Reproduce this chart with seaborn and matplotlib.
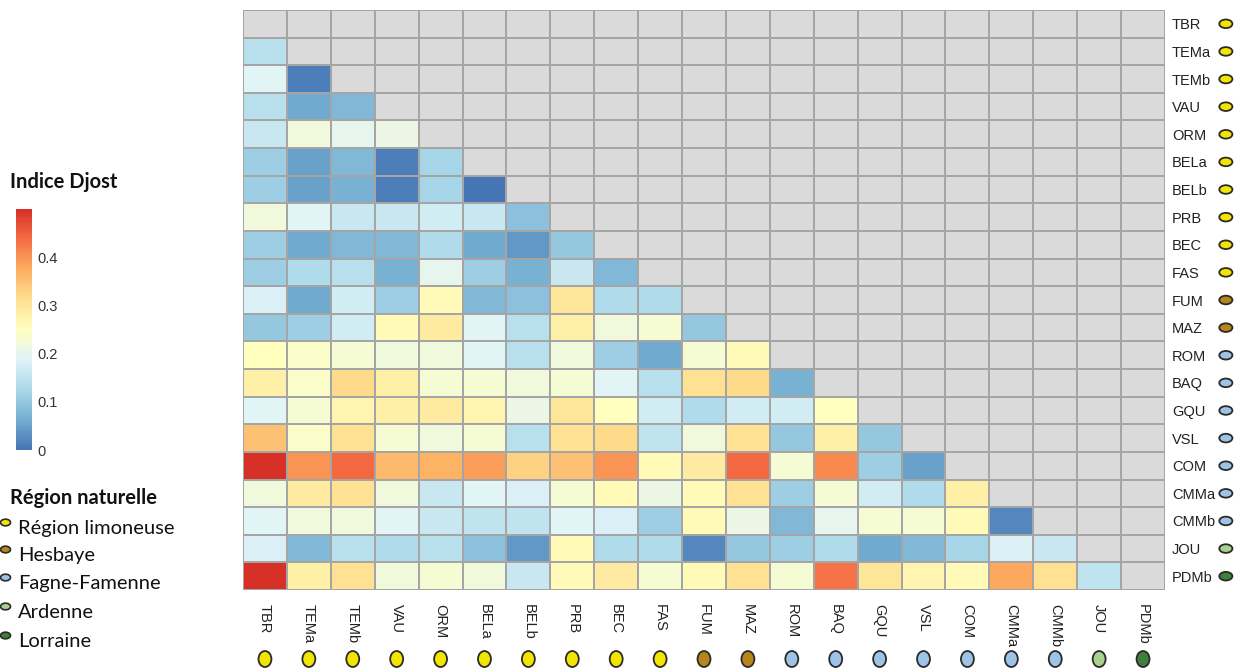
import numpy as np
import pandas as pd
import matplotlib
matplotlib.use('Agg')
import matplotlib.pyplot as plt
from matplotlib.colors import LinearSegmentedColormap, ListedColormap
from matplotlib.markers import MarkerStyle
from matplotlib.transforms import Affine2D, blended_transform_factory
import seaborn as sns

# sites (rows and columns of the matrix)
sites = ['TBR', 'TEMa', 'TEMb', 'VAU', 'ORM', 'BELa', 'BELb', 'PRB', 'BEC', 'FAS',
         'FUM', 'MAZ', 'ROM', 'BAQ', 'GQU', 'VSL', 'COM', 'CMMa', 'CMMb', 'JOU', 'PDMb']
site_region = [0, 0, 0, 0, 0, 0, 0, 0, 0, 0, 1, 1, 2, 2, 2, 2, 2, 2, 2, 3, 4]

region_names = ['Région limoneuse', 'Hesbaye', 'Fagne-Famenne', 'Ardenne', 'Lorraine']
region_colors = ['#f2e500', '#b5861c', '#9dc3e6', '#a9d18e', '#3f7f3a']

# lower triangle of Djost values (row i -> columns 0..i-1)
djost_rows = [
    [],
    [0.14],
    [0.19, 0.01],
    [0.14, 0.06, 0.08],
    [0.16, 0.22, 0.20, 0.21],
    [0.11, 0.05, 0.08, 0.01, 0.12],
    [0.11, 0.05, 0.07, 0.01, 0.12, 0.00],
    [0.22, 0.19, 0.16, 0.16, 0.17, 0.16, 0.09],
    [0.11, 0.06, 0.08, 0.08, 0.13, 0.06, 0.04, 0.10],
    [0.11, 0.13, 0.14, 0.07, 0.20, 0.11, 0.07, 0.16, 0.08],
    [0.18, 0.06, 0.17, 0.11, 0.26, 0.08, 0.09, 0.30, 0.13, 0.13],
    [0.10, 0.11, 0.17, 0.26, 0.29, 0.19, 0.14, 0.28, 0.22, 0.23, 0.10],
    [0.25, 0.24, 0.23, 0.22, 0.22, 0.19, 0.14, 0.22, 0.11, 0.06, 0.23, 0.26],
    [0.28, 0.24, 0.32, 0.28, 0.23, 0.23, 0.22, 0.23, 0.19, 0.14, 0.31, 0.32, 0.07],
    [0.19, 0.23, 0.27, 0.28, 0.29, 0.27, 0.21, 0.30, 0.25, 0.17, 0.13, 0.17, 0.17, 0.25],
    [0.35, 0.24, 0.31, 0.23, 0.22, 0.23, 0.14, 0.31, 0.32, 0.15, 0.22, 0.31, 0.10, 0.28, 0.10],
    [0.50, 0.40, 0.44, 0.36, 0.37, 0.39, 0.33, 0.35, 0.40, 0.26, 0.29, 0.44, 0.23, 0.41, 0.11, 0.05],
    [0.22, 0.29, 0.31, 0.22, 0.16, 0.19, 0.18, 0.23, 0.26, 0.21, 0.26, 0.31, 0.11, 0.23, 0.17, 0.13, 0.28],
    [0.19, 0.22, 0.22, 0.19, 0.16, 0.15, 0.15, 0.19, 0.18, 0.11, 0.26, 0.21, 0.08, 0.20, 0.23, 0.23, 0.26, 0.02],
    [0.18, 0.08, 0.14, 0.13, 0.14, 0.09, 0.04, 0.26, 0.13, 0.13, 0.02, 0.10, 0.11, 0.13, 0.06, 0.08, 0.12, 0.18, 0.16],
    [0.50, 0.28, 0.31, 0.22, 0.23, 0.22, 0.16, 0.26, 0.29, 0.23, 0.26, 0.31, 0.23, 0.43, 0.30, 0.27, 0.26, 0.38, 0.31, 0.15],
]

cbar_ticks = [0, 0.1, 0.2, 0.3, 0.4]
cbar_labels = ['0', '0.1', '0.2', '0.3', '0.4']

n = len(sites)
mat = np.full((n, n), np.nan)
for i, row in enumerate(djost_rows):
    mat[i, :len(row)] = row
df = pd.DataFrame(mat, index=sites, columns=sites)
mask = np.triu(np.ones((n, n), dtype=bool))

cmap = LinearSegmentedColormap.from_list('djost', ['#4575b4', '#74add1', '#abd9e9', '#e0f3f8', '#ffffbf',
                                                   '#fee090', '#fdae61', '#f46d43', '#d73027'])

sns.set_theme(style='white')
plt.rcParams['font.family'] = ['Liberation Sans', 'DejaVu Sans']

W, H = 1245, 671
fig = plt.figure(figsize=(W / 100, H / 100), dpi=100)
ax = fig.add_axes([243 / W, 1 - 590 / H, 922 / W, 580 / H])
cax = fig.add_axes([16 / W, 1 - 450 / H, 16 / W, 241 / H])

grid_col = '#a5a5a5'
# grey background for the masked upper triangle
sns.heatmap(np.zeros((n, n)), ax=ax, cmap=ListedColormap(['#dadada']), vmin=-1, vmax=1,
            cbar=False, linewidths=1.2, linecolor=grid_col)
sns.heatmap(df, mask=mask, ax=ax, cmap=cmap, vmin=0, vmax=0.5, linewidths=1.2, linecolor=grid_col,
            cbar_ax=cax, cbar_kws={'ticks': cbar_ticks})

ax.set_xticks(np.arange(n) + 0.5)
ax.set_xticklabels(sites, rotation=270, fontsize=10.5, color='#222222')
ax.yaxis.tick_right()
ax.set_yticks(np.arange(n) + 0.5)
ax.set_yticklabels(sites, rotation=0, fontsize=10.5, color='#222222')
ax.tick_params(axis='x', length=0, pad=10)
ax.tick_params(axis='y', length=0, pad=5)
ax.set_xlabel('')
ax.set_ylabel('')

cb = ax.collections[1].colorbar
cb.outline.set_visible(False)
cb.set_ticklabels(cbar_labels)
cax.tick_params(length=0, labelsize=10.5, pad=4, labelcolor='#333333')

# region dots next to site names
dot_colors = [region_colors[r] for r in site_region]
tr_right = blended_transform_factory(ax.transAxes, ax.transData)
ax.scatter([1.066] * n, np.arange(n) + 0.5, transform=tr_right, s=60, c=dot_colors,
           marker=MarkerStyle('o', transform=Affine2D().scale(1.22, 0.8)),
           edgecolors='#2a2a2a', linewidths=1.3, clip_on=False, zorder=5)
tr_bottom = blended_transform_factory(ax.transData, ax.transAxes)
ax.scatter(np.arange(n) + 0.5, [-0.119] * n, transform=tr_bottom, s=120, c=dot_colors,
           marker=MarkerStyle('o', transform=Affine2D().scale(0.85, 1.05)),
           edgecolors='#2a2a2a', linewidths=1.3, clip_on=False, zorder=5)

# left legend (pixel coordinates)
lax = fig.add_axes([0, 0, 1, 1])
lax.set_xlim(0, W)
lax.set_ylim(H, 0)
lax.axis('off')
lax.patch.set_alpha(0)
legend_font = ['Lato', 'DejaVu Sans']
lax.text(10, 188, 'Indice Djost', fontsize=14.5, fontweight='bold', family=legend_font,
         va='baseline', ha='left', color='#111111')
lax.text(10, 504, 'Région naturelle', fontsize=14.5, fontweight='bold', family=legend_font,
         va='baseline', ha='left', color='#111111')
legend_y = [534, 561, 589, 618, 647]
for name, col, y in zip(region_names, region_colors, legend_y):
    lax.scatter([5], [y - 12], s=36, c=[col], edgecolors='#2a2a2a', linewidths=1.2,
                marker=MarkerStyle('o', transform=Affine2D().scale(1.2, 0.8)), clip_on=False)
    lax.text(18, y, name, fontsize=14.5, family=legend_font, va='baseline', ha='left',
             color='#111111')

fig.savefig('out.png', dpi=100, facecolor='white')
